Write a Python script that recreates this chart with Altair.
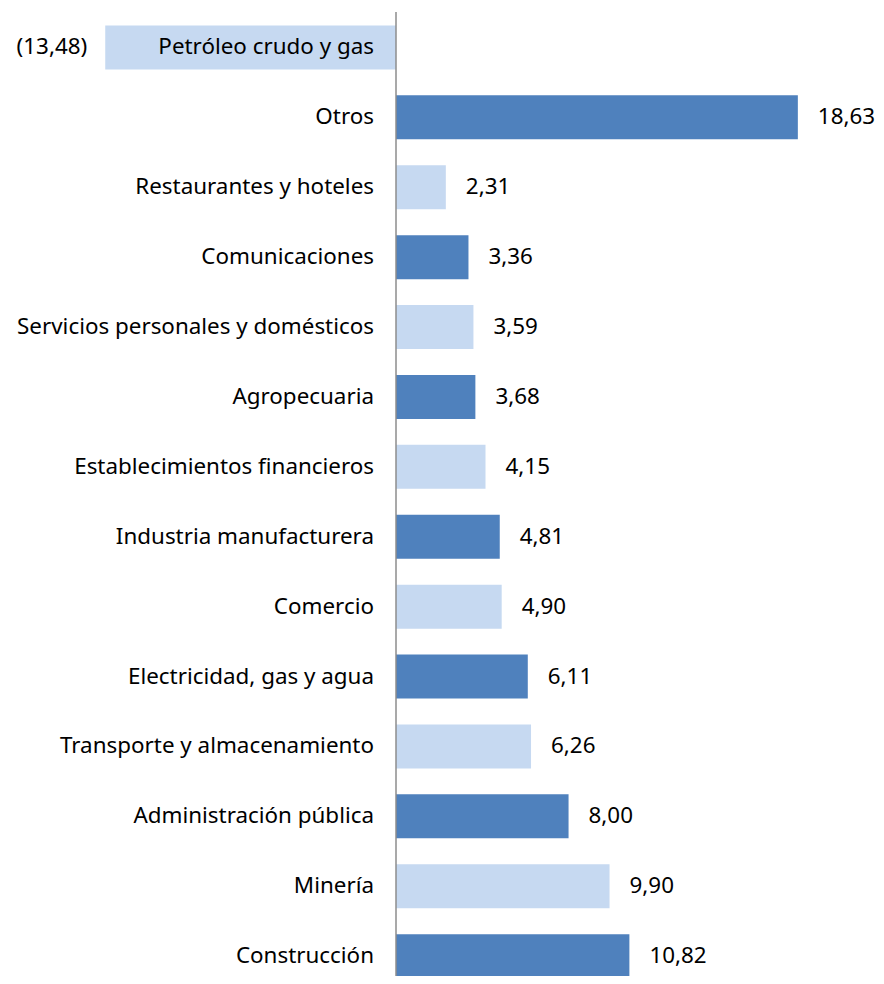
import altair as alt
import pandas as pd

categories = [
    "Petróleo crudo y gas", "Otros\u00a0", "Restaurantes y hoteles", "Comunicaciones",
    "Servicios personales y domésticos", "Agropecuaria", "Establecimientos financieros",
    "Industria manufacturera", "Comercio", "Electricidad, gas y agua",
    "Transporte y almacenamiento", "Administración pública", "Minería", "Construcción",
]
values = [-13.48, 18.63, 2.31, 3.36, 3.59, 3.68, 4.15, 4.81, 4.90, 6.11, 6.26, 8.00, 9.90, 10.82]
shades = ["claro", "oscuro"] * 7


def fmt(v):
    s = f"{abs(v):.2f}".replace(".", ",")
    return f"({s})" if v < 0 else s


df = pd.DataFrame({
    "cat": categories,
    "val": values,
    "shade": shades,
    "label": [fmt(v) for v in values],
    "zero": [0.0] * len(categories),
})

FONT = "Noto Sans"
FS = 22.4
W, H = 868, 968
K = 21.57
XDOM = [-388 / K, (W - 388) / K]

xscale = alt.Scale(domain=XDOM, nice=False, zero=False)
yscale = alt.Scale(range=[4.5, 983.1], paddingInner=0.37, paddingOuter=0.185)

base = alt.Chart(df)

bars = base.mark_bar().encode(
    x=alt.X("val:Q", scale=xscale, axis=None),
    x2="zero:Q",
    y=alt.Y("cat:N", sort=categories, axis=None, scale=yscale),
    color=alt.Color("shade:N", scale=alt.Scale(domain=["claro", "oscuro"], range=["#C6D9F1", "#4F81BD"]), legend=None),
)

zero = base.transform_filter("datum.val < 0").mark_rule(color="#8C8C8C", strokeWidth=1.5).encode(
    x=alt.X("zero:Q", scale=xscale, axis=None),
    y=alt.value(4), y2=alt.value(H),
)

cat_text = base.mark_text(align="right", baseline="middle", dx=-22, font=FONT, fontSize=FS, color="#000000").encode(
    x=alt.X("zero:Q", scale=xscale, axis=None),
    y=alt.Y("cat:N", sort=categories, axis=None, scale=yscale),
    text="cat:N",
)

pos_text = base.transform_filter("datum.val >= 0").mark_text(
    align="left", baseline="middle", dx=20, font=FONT, fontSize=FS, color="#000000"
).encode(
    x=alt.X("val:Q", scale=xscale, axis=None),
    y=alt.Y("cat:N", sort=categories, axis=None, scale=yscale),
    text="label:N",
)

neg_text = base.transform_filter("datum.val < 0").mark_text(
    align="right", baseline="middle", dx=-18, font=FONT, fontSize=FS, color="#000000"
).encode(
    x=alt.X("val:Q", scale=xscale, axis=None),
    y=alt.Y("cat:N", sort=categories, axis=None, scale=yscale),
    text="label:N",
)

chart = alt.layer(bars, zero, cat_text, pos_text, neg_text).properties(
    width=W, height=H, padding=0, autosize=alt.AutoSizeParams(type="none")
).configure_view(stroke=None)

chart.save("out.html", embed_options={"renderer": "svg", "actions": False})
